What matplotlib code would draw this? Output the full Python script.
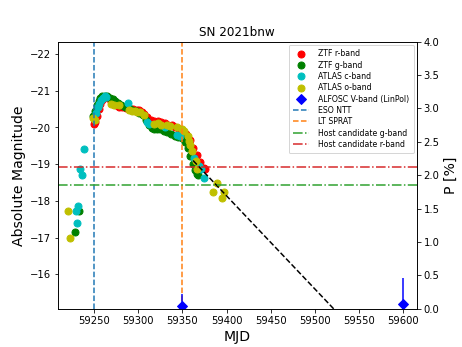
import matplotlib
matplotlib.use("Agg")
import matplotlib.pyplot as plt

# ZTF r-band
ztf_r_mjd = [59250, 59251, 59253, 59255, 59257, 59259, 59261, 59263, 59266, 59269,
             59272, 59275, 59278, 59282, 59286, 59290, 59294, 59298, 59301, 59304,
             59307, 59310, 59314, 59318, 59322, 59326, 59330, 59334, 59338, 59342,
             59346, 59350, 59354, 59358, 59362, 59366, 59370, 59374, 59376]
ztf_r_mag = [-20.1, -20.15, -20.3, -20.5, -20.65, -20.75, -20.8, -20.82, -20.8, -20.72,
             -20.66, -20.6, -20.57, -20.55, -20.53, -20.52, -20.5, -20.48, -20.47, -20.42,
             -20.36, -20.28, -20.2, -20.17, -20.17, -20.16, -20.13, -20.08, -20.06, -20.02,
             -19.97, -19.92, -19.83, -19.65, -19.45, -19.25, -19.05, -18.9, -18.88]

# ZTF g-band
ztf_g_mjd = [59228.5, 59233, 59249, 59251, 59253, 59255, 59257, 59259, 59262, 59265,
             59268, 59271, 59274, 59277, 59281, 59285, 59289, 59293, 59297, 59301,
             59305, 59309, 59312, 59315, 59318, 59321, 59325, 59329, 59333, 59337,
             59341, 59345, 59349, 59353, 59356, 59359, 59362, 59364, 59366, 59368]
ztf_g_mag = [-17.16, -17.73, -20.3, -20.45, -20.6, -20.72, -20.8, -20.85, -20.87, -20.85,
             -20.8, -20.77, -20.72, -20.68, -20.6, -20.55, -20.52, -20.48, -20.45, -20.4,
             -20.35, -20.2, -20.08, -19.98, -19.95, -19.97, -19.95, -19.9, -19.87, -19.82,
             -19.78, -19.75, -19.72, -19.6, -19.45, -19.22, -19.0, -18.85, -18.73, -18.7]

# ATLAS c-band
atlas_c_mjd = [59229, 59230.4, 59232, 59234, 59236.4, 59238.7, 59252, 59254, 59256, 59258,
               59260, 59262, 59264, 59288, 59310, 59312, 59330, 59344, 59347, 59363,
               59369, 59371, 59374.5]
atlas_c_mag = [-17.73, -17.4, -17.86, -18.88, -18.71, -19.42, -20.4, -20.55, -20.65, -20.75,
               -20.8, -20.85, -20.83, -20.68, -20.14, -20.1, -20.0, -19.8, -19.78, -19.18,
               -18.95, -18.88, -18.62]

# ATLAS o-band
atlas_o_mjd = [59221, 59222.5, 59249, 59251, 59269, 59272, 59278, 59290, 59293, 59296,
               59299, 59302, 59306, 59318, 59322, 59326, 59333, 59336, 59344, 59349,
               59352, 59356, 59357.5, 59359, 59361, 59365, 59367, 59385, 59389.6, 59394.5,
               59397]
atlas_o_mag = [-17.73, -16.98, -20.25, -20.2, -20.64, -20.6, -20.6, -20.48, -20.46, -20.44,
               -20.43, -20.41, -20.35, -20.1, -20.12, -20.08, -20.08, -20.05, -20.0, -19.95,
               -19.9, -19.77, -19.64, -19.52, -19.36, -19.1, -18.86, -18.25, -18.5, -18.09,
               -18.25]

# ALFOSC polarimetry
pol_mjd = [59350, 59600]
pol_p = [0.04, 0.075]
pol_err = [0.18, 0.39]

# Spectra epochs
eso_ntt_mjd = 59250
lt_sprat_mjd = 59349

# Host candidate magnitudes
host_g = -18.44
host_r = -18.93

# Linear decline line
fit_mjd = [59362, 59540]
fit_mag = [-19.1, -14.58]

fig, ax = plt.subplots(figsize=(6.43, 4.82), dpi=72)
ms = 7
h_r, = ax.plot(ztf_r_mjd, ztf_r_mag, 'o', color='r', ms=ms, label='ZTF r-band')
h_g, = ax.plot(ztf_g_mjd, ztf_g_mag, 'o', color='g', ms=ms, label='ZTF g-band')
h_c, = ax.plot(atlas_c_mjd, atlas_c_mag, 'o', color='c', ms=ms, label='ATLAS c-band')
h_o, = ax.plot(atlas_o_mjd, atlas_o_mag, 'o', color='y', ms=ms, label='ATLAS o-band')
ax.plot(fit_mjd, fit_mag, '--', color='k')
h_ntt = ax.axvline(eso_ntt_mjd, color='C0', ls='--', label='ESO NTT')
h_lt = ax.axvline(lt_sprat_mjd, color='C1', ls='--', label='LT SPRAT')
h_hg = ax.axhline(host_g, color='C2', ls='-.', label='Host candidate g-band')
h_hr = ax.axhline(host_r, color='C3', ls='-.', label='Host candidate r-band')

ax.set_xlim(59209, 59615)
ax.set_ylim(-15.06, -22.34)
ax.set_xlabel('MJD', fontsize=14)
ax.set_ylabel('Absolute Magnitude', fontsize=14)
ax.set_title('SN 2021bnw', fontsize=12)

ax2 = ax.twinx()
h_p = ax2.errorbar(pol_mjd, pol_p, yerr=pol_err, fmt='D', color='b', ms=7,
                   label='ALFOSC V-band (LinPol)')
ax2.set_ylim(0, 4)
ax2.set_yticks([0, 0.5, 1.0, 1.5, 2.0, 2.5, 3.0, 3.5, 4.0])
ax2.set_ylabel('P [%]', fontsize=14)
ax2.set_xlim(59209, 59615)

handles = [h_r, h_g, h_c, h_o, h_p, h_ntt, h_lt, h_hg, h_hr]
labels = [h.get_label() for h in handles]
ax2.legend(handles, labels, loc='upper right', fontsize=7.7, labelspacing=0.3,
           handletextpad=1.2, borderpad=0.6, borderaxespad=0.4)

fig.savefig('out.png', dpi=72)
